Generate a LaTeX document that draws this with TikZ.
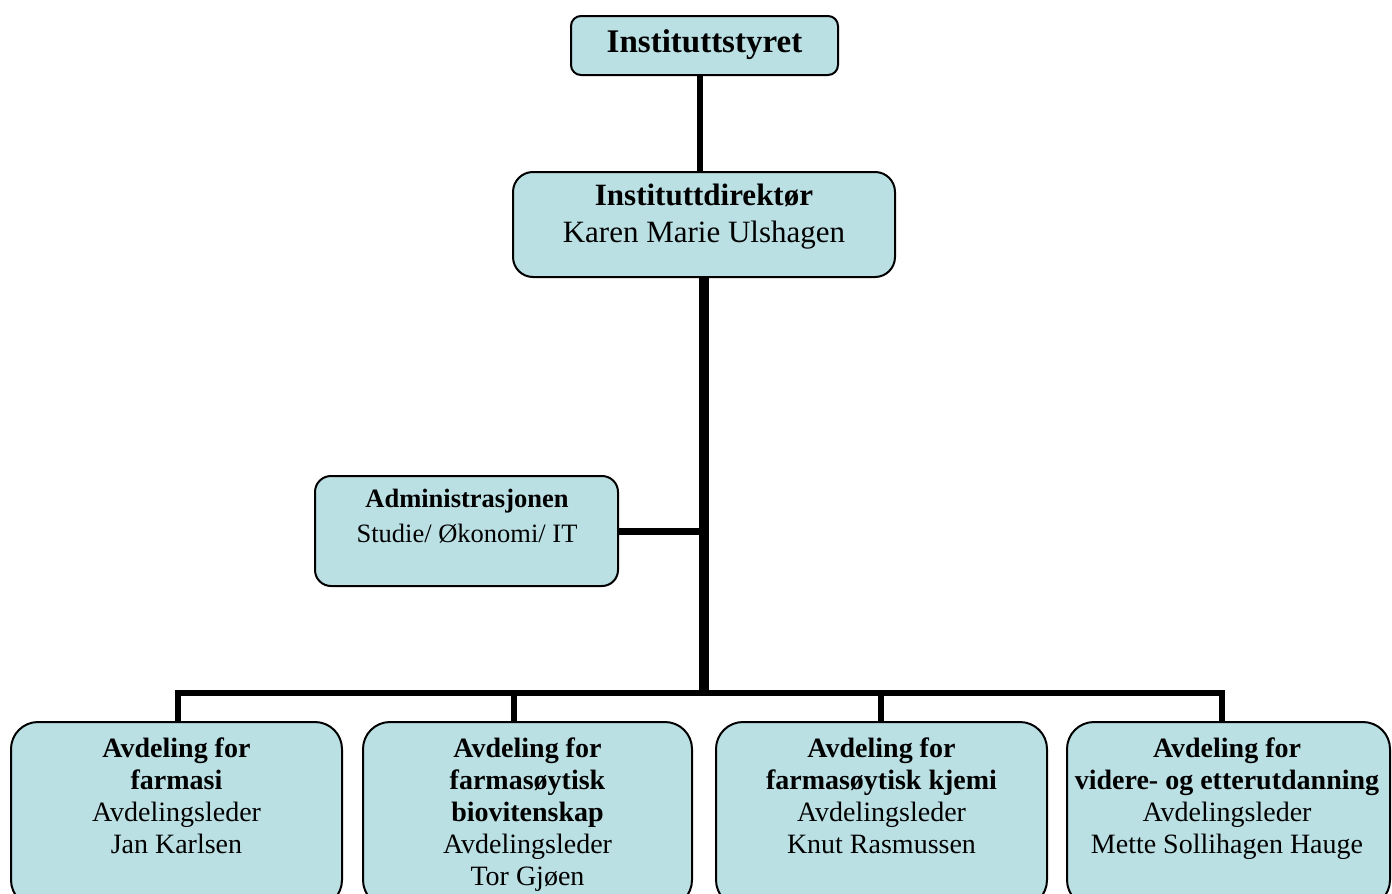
\documentclass[tikz,border=0pt]{standalone}
\usepackage{fontspec}
\setmainfont{Liberation Serif}
\definecolor{boxfill}{RGB}{186,224,228}
\tikzset{
  orgbox/.style={draw=black, line width=2pt, fill=boxfill, inner sep=0pt, rectangle},
  conn/.style={line width=5.5pt, line join=miter},
  trunk/.style={line width=9.5pt},
  txt/.style={anchor=base, inner sep=0pt, align=center},
}
\newcommand{\toptxt}{\fontsize{33}{38}\selectfont}
\newcommand{\dirtxt}{\fontsize{31}{37}\selectfont}
\newcommand{\admtxt}{\fontsize{26.5}{35}\selectfont}
\newcommand{\deptxt}{\fontsize{28}{32}\selectfont}
\begin{document}
\begin{tikzpicture}[x=1pt,y=-1pt]
\useasboundingbox (0,0) rectangle (1392,894);
\clip (0,0) rectangle (1392,894);

% boxes
\node[orgbox, rounded corners=10pt, minimum width=267pt, minimum height=59pt] (styret) at (704.5,45.5) {};
\node[orgbox, rounded corners=20pt, minimum width=382pt, minimum height=105pt] (dir) at (704,224.5) {};
\node[orgbox, rounded corners=16pt, minimum width=303pt, minimum height=110pt] (adm) at (466.5,531) {};
\node[orgbox, rounded corners=27pt, minimum width=331pt, minimum height=185pt] (b1) at (176.5,814.5) {};
\node[orgbox, rounded corners=27pt, minimum width=329pt, minimum height=185pt] (b2) at (527.5,814.5) {};
\node[orgbox, rounded corners=27pt, minimum width=331pt, minimum height=185pt] (b3) at (881.5,814.5) {};
\node[orgbox, rounded corners=27pt, minimum width=323pt, minimum height=185pt] (b4) at (1228.5,814.5) {};

% texts
\node[txt] (styret-t) at (704.5,52) {\toptxt\textbf{Instituttstyret}};
\node[txt] (dir-t) at (704,205) {\dirtxt\begin{tabular}[t]{@{}c@{}}\textbf{Instituttdirektør}\\Karen Marie Ulshagen\end{tabular}};
\node[txt] (adm-t) at (467,507) {\admtxt\begin{tabular}[t]{@{}c@{}}\textbf{Administrasjonen}\\Studie/ Økonomi/ IT\end{tabular}};
\node[txt] (b1-t) at (176.5,757) {\deptxt\begin{tabular}[t]{@{}c@{}}\textbf{Avdeling for}\\\textbf{farmasi}\\Avdelingsleder\\Jan Karlsen\end{tabular}};
\node[txt] (b2-t) at (527.5,757) {\deptxt\begin{tabular}[t]{@{}c@{}}\textbf{Avdeling for}\\\textbf{farmasøytisk}\\\textbf{biovitenskap}\\Avdelingsleder\\Tor Gjøen\end{tabular}};
\node[txt] (b3-t) at (881.5,757) {\deptxt\begin{tabular}[t]{@{}c@{}}\textbf{Avdeling for}\\\textbf{farmasøytisk kjemi}\\Avdelingsleder\\Knut Rasmussen\end{tabular}};
\node[txt] (b4-t) at (1227,757) {\deptxt\begin{tabular}[t]{@{}c@{}}\textbf{Avdeling for}\\\textbf{videre- og etterutdanning}\\Avdelingsleder\\Mette Sollihagen Hauge\end{tabular}};

% connector helper coordinates
\coordinate (tx) at (700,0);
\coordinate (trunkend) at (704,696);
\coordinate (d1) at (178,693);
\coordinate (d2) at (514,693);
\coordinate (d3) at (881,693);
\coordinate (d4) at (1222,693);

% connectors
\draw[line width=6pt] (styret.south -| tx) -- (dir.north -| tx);
\draw[trunk] (dir.south) -- (dir.south |- trunkend);
\draw[line width=7pt] (adm.east) -- (adm.east -| dir.south);
\draw[conn] (d1 |- b1.north) -- (d1) -- (d4) -- (d4 |- b4.north);
\draw[conn] (d2) -- (d2 |- b2.north);
\draw[conn] (d3) -- (d3 |- b3.north);
\end{tikzpicture}
\end{document}
